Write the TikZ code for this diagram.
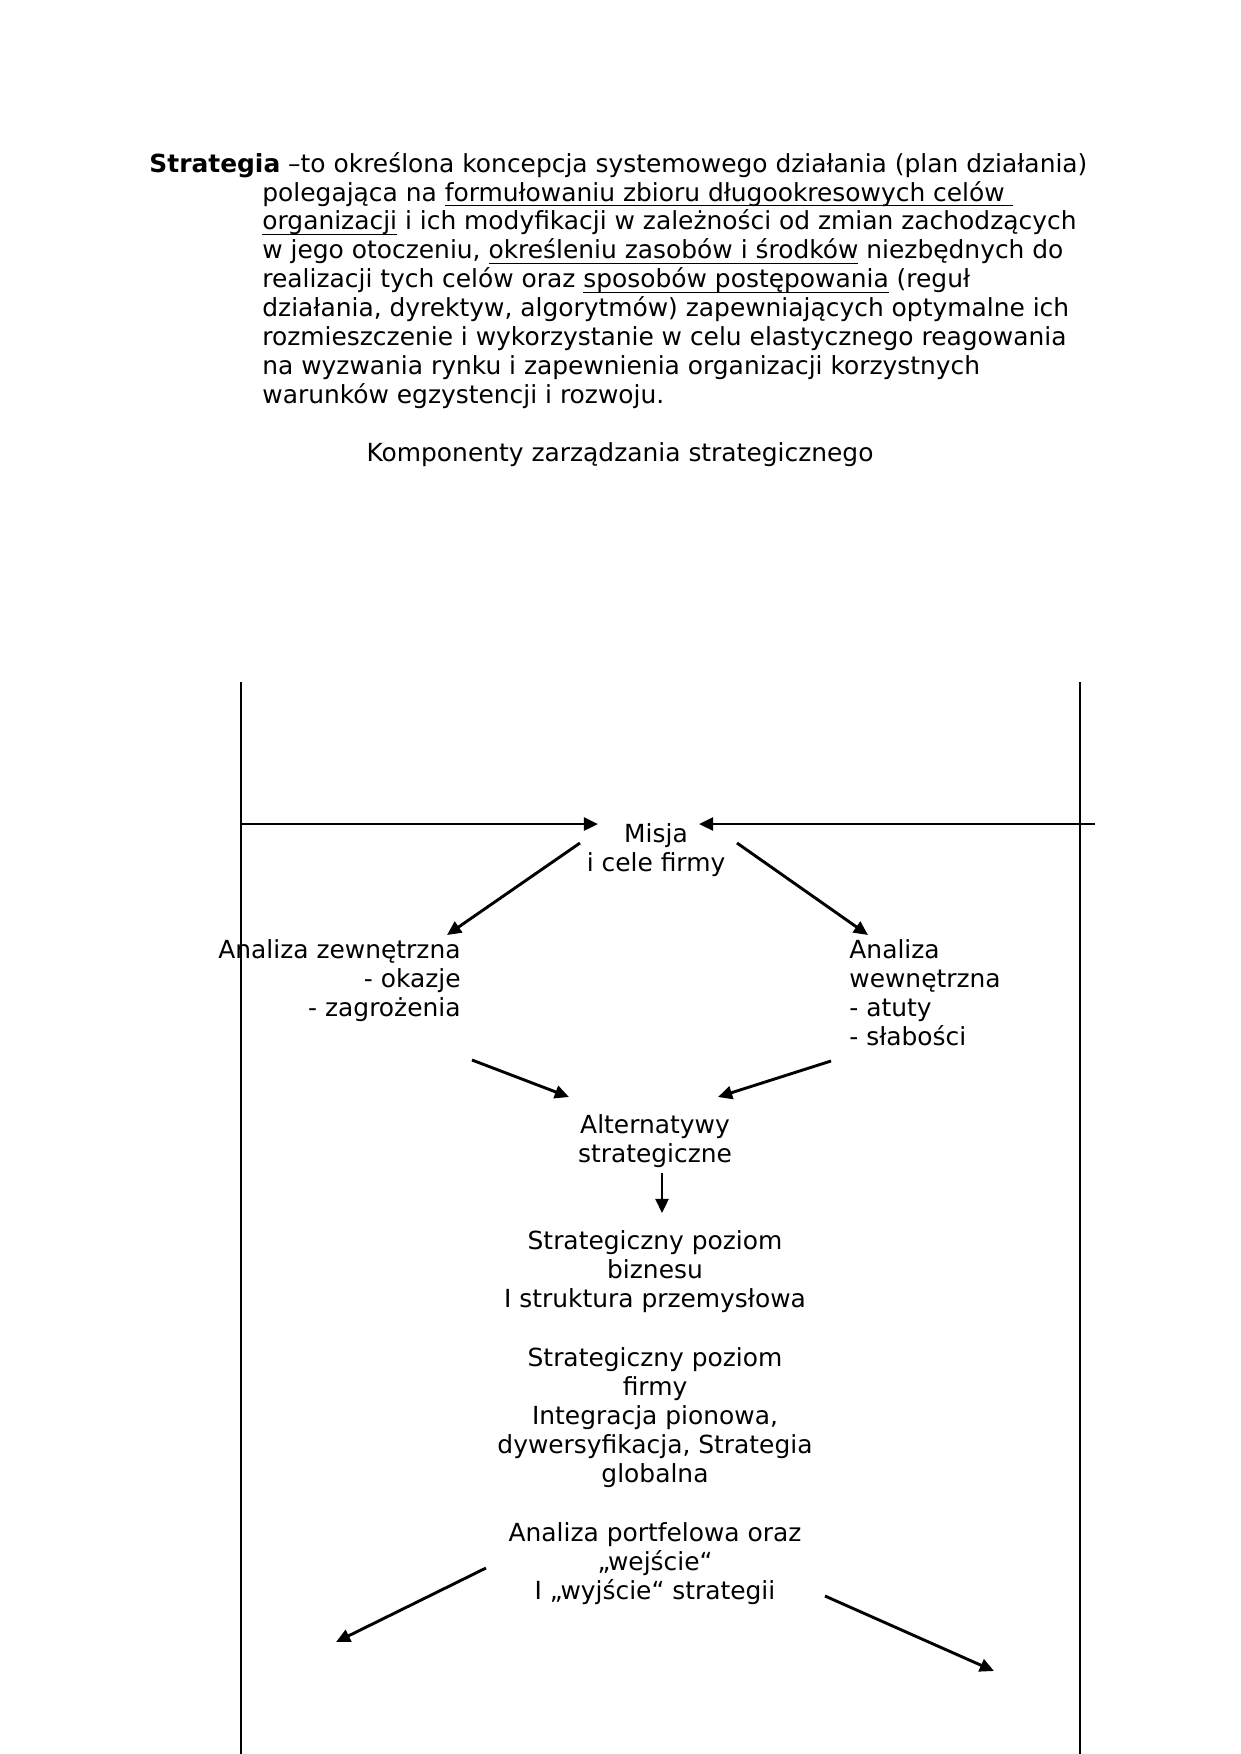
\documentclass[tikz,border=0pt]{standalone}
\usepackage{fontspec}
\setmainfont{DejaVu Sans}
\usepackage{tikz}
\usetikzlibrary{arrows.meta}
\tikzset{>=stealth}
\tikzset{
  tekst/.style={inner sep=0pt, font={\fontsize{12pt}{13.9pt}\selectfont}},
  strz/.style={-{Triangle[length=2.4mm, width=2.2mm]}, line width=1.4pt},
  linia/.style={line width=1.4pt}
}
\newcommand\podkr[1]{\leavevmode\setbox0\hbox{#1}\rlap{\rule[-2.6pt]{\wd0}{0.7pt}}\box0\relax}

\begin{document}
\begin{tikzpicture}[x=0.16933mm, y=-0.16933mm]
        \useasboundingbox (0,0) rectangle (1240,1754);
        % Definicja
        \node[tekst, anchor=base west, align=left] (definicja) at (149,403)
          {\textbf{Strategia} –to określona koncepcja systemowego działania (plan działania)\\
           \hspace*{19.13mm}polegająca na \podkr{formułowaniu zbioru długookresowych celów\ }\\
           \hspace*{19.13mm}\podkr{organizacji} i ich modyfikacji w zależności od zmian zachodzących\\
           \hspace*{19.13mm}w jego otoczeniu, \podkr{określeniu zasobów i środków} niezbędnych do\\
           \hspace*{19.13mm}realizacji tych celów oraz \podkr{sposobów postępowania} (reguł\\
           \hspace*{19.13mm}działania, dyrektyw, algorytmów) zapewniających optymalne ich\\
           \hspace*{19.13mm}rozmieszczenie i wykorzystanie w celu elastycznego reagowania\\
           \hspace*{19.13mm}na wyzwania rynku i zapewnienia organizacji korzystnych\\
           \hspace*{19.13mm}warunków egzystencji i rozwoju.};
        \node[tekst, anchor=base] (tytul) at (620,461) {Komponenty zarządzania strategicznego};

        % Ramy
        \coordinate (lewaGora) at (241,682);
        \coordinate (lewaDol) at (241,1754);
        \coordinate (prawaGora) at (1080,682);
        \coordinate (prawaDol) at (1080,1754);
        \draw [linia] (lewaGora) -- (lewaDol);
        \draw [linia] (prawaGora) -- (prawaDol);

        % Bloki
        \node[tekst, anchor=base, align=center] (misja) at (656,871) {Misja\\i cele firmy};
        \node[tekst, anchor=base east, align=right] (zewn) at (461,1016)
          {Analiza zewnętrzna\\- okazje\\- zagrożenia};
        \node[tekst, anchor=base west, align=left] (wewn) at (849,1045)
          {Analiza\\wewnętrzna\\- atuty\\- słabości};
        \node[tekst, anchor=base, align=center] (alt) at (655,1162) {Alternatywy\\strategiczne};
        \node[tekst, anchor=base, align=center] (biznes) at (655,1307)
          {Strategiczny poziom\\biznesu\\I struktura przemysłowa};
        \node[tekst, anchor=base, align=center] (firma) at (655,1482)
          {Strategiczny poziom\\firmy\\Integracja pionowa,\\dywersyfikacja, Strategia\\globalna};
        \node[tekst, anchor=base, align=center] (portfel) at (655,1599)
          {Analiza portfelowa oraz\\„wejście“\\I „wyjście“ strategii};

        % Strzalki
        \coordinate (hL) at (241,824);
        \coordinate (hLk) at (598,824);
        \coordinate (hP) at (1095,824);
        \coordinate (hPk) at (699,824);
        \draw [strz] (hL) -- (hLk);
        \draw [strz] (hP) -- (hPk);
        \coordinate (mL) at (580,843);
        \coordinate (mLk) at (447,935);
        \coordinate (mP) at (737,843);
        \coordinate (mPk) at (868,935);
        \draw [strz] (mL) -- (mLk);
        \draw [strz] (mP) -- (mPk);
        \coordinate (aL) at (472,1060);
        \coordinate (aLk) at (569,1097);
        \coordinate (aP) at (831,1061);
        \coordinate (aPk) at (718,1097);
        \draw [strz] (aL) -- (aLk);
        \draw [strz] (aP) -- (aPk);
        \coordinate (dG) at (662,1173);
        \coordinate (dD) at (662,1213);
        \draw [strz] (dG) -- (dD);
        \coordinate (pL) at (486,1568);
        \coordinate (pLk) at (336,1642);
        \coordinate (pP) at (825,1596);
        \coordinate (pPk) at (994,1671);
        \draw [strz] (pL) -- (pLk);
        \draw [strz] (pP) -- (pPk);
      \end{tikzpicture}
\end{document}
